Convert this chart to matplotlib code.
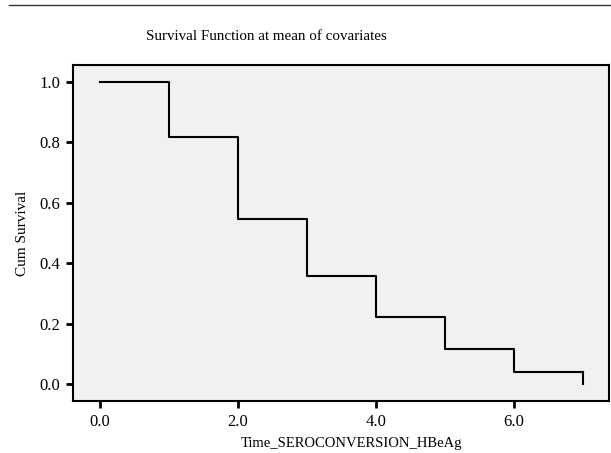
import numpy as np
import matplotlib.pyplot as plt

# survival steps
times = [0, 1, 2, 3, 4, 5, 6, 7]
surv = [1.0, 0.819, 0.546, 0.357, 0.222, 0.117, 0.039, 0.0]

xticks = [0, 2, 4, 6]
yticks = [0.0, 0.2, 0.4, 0.6, 0.8, 1.0]

plt.rcParams['font.family'] = ['Liberation Serif', 'DejaVu Serif']

fig = plt.figure(figsize=(6.11, 4.53), dpi=100)
ax = fig.add_axes([73/611, 1 - 401/453, 536/611, 336/453])
ax.set_facecolor('#f0f1f0')

# step line (final drop at last time)
ax.step(times[:-1] + [times[-1]], surv[:-1] + [surv[-2]], where='post', color='black', lw=1.5)
ax.plot([times[-1], times[-1]], [surv[-2], surv[-1]], color='black', lw=1.5)

ax.set_xlim(-0.39, 7.38)
ax.set_ylim(-0.056, 1.056)
ax.set_xticks(xticks)
ax.set_xticklabels([f'{v:.1f}' for v in xticks])
ax.set_yticks(yticks)
ax.set_yticklabels([f'{v:.1f}' for v in yticks])
ax.tick_params(direction='out', length=5, width=2, labelsize=12, pad=4)
for s in ax.spines.values():
    s.set_linewidth(1.5)

ax.set_ylabel('Cum Survival', fontsize=11, labelpad=8)
fig.text(351/611, 1 - 443/453, 'Time_SEROCONVERSION_HBeAg',
         ha='center', va='center', fontsize=10.5)
fig.text(266/611, 1 - 37/453, 'Survival Function at mean of covariates',
         ha='center', va='center', fontsize=10.8)

# rule line at the top of the figure
fig.add_artist(plt.Line2D([9/611, 1], [1 - 5/453, 1 - 5/453], color='#333333', lw=1))

fig.savefig('out.png', dpi=100)
